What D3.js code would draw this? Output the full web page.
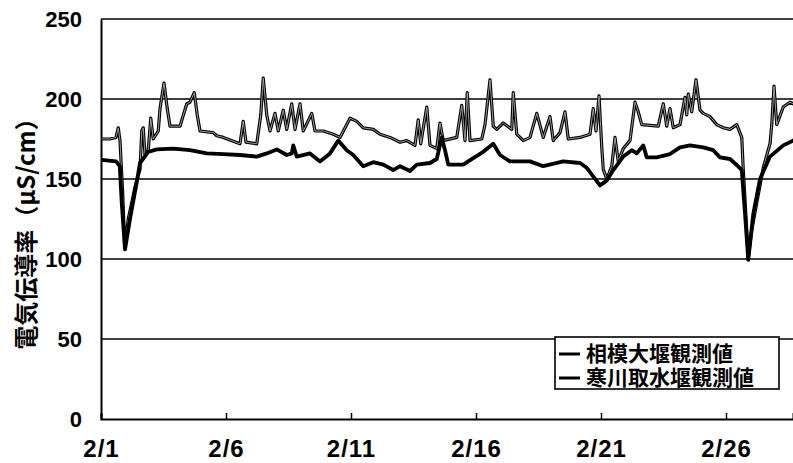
<!DOCTYPE html>
<html>
<head>
<meta charset="utf-8">
<script src="https://cdn.jsdelivr.net/npm/d3@7/dist/d3.min.js"></script>
<style>
  html, body { margin: 0; padding: 0; background: #fff; }
  svg { display: block; }
</style>
</head>
<body>
<svg id="chart" width="793" height="463"></svg>
<script>
// Conductivity records for February; time is in days elapsed since 2/1 00:00.
const sagamiDay = [0.03, 0.36, 0.6, 0.69, 0.76, 0.87, 0.95, 1.09, 1.36, 1.56, 1.63, 1.69, 1.76, 1.89, 1.99, 2.09,
  2.29, 2.36, 2.52, 2.65, 2.76, 3.16, 3.43, 3.56, 3.73, 3.85, 3.96, 4.49, 4.63, 4.89, 5.56, 5.69, 5.8, 6.23,
  6.39, 6.49, 6.63, 6.76, 6.96, 7.09, 7.29, 7.43, 7.63, 7.76, 7.96, 8.09, 8.43, 8.56, 8.89, 9.29,
  9.56, 9.96, 10.23, 10.49, 10.89, 11.16, 11.56, 11.96, 12.23, 12.56, 12.69, 12.79, 13.03, 13.16, 13.43,
  13.56, 13.69, 14.23, 14.43, 14.56, 14.65, 14.76, 15.23, 15.36, 15.56, 15.69, 15.83, 16.09, 16.43, 16.49,
  16.63, 16.89, 17.16, 17.43, 17.69, 17.96, 18.09, 18.36, 18.56, 18.69,
  19.16, 19.56, 19.69, 19.8, 19.92, 20.03, 20.09, 20.23, 20.43, 20.56, 20.69, 20.89, 21.16, 21.36, 21.49,
  21.63, 22.29, 22.49, 22.63, 22.76, 22.89, 23.16, 23.36, 23.43, 23.49, 23.63, 23.8, 23.96, 24.09, 24.36,
  24.63, 24.89, 25.16, 25.43, 25.63, 25.69, 25.83, 25.89, 26.03, 26.23, 26.49, 26.76, 26.83, 26.92, 27.03,
  27.29, 27.56, 27.83];
const sagamiVal = [175, 175, 176, 182, 174, 140, 107, 125, 145, 156, 180, 182, 165, 168, 188, 175,
  180, 194, 210, 194, 183, 183, 197, 198, 204, 190, 180, 179, 177, 176, 172, 186, 173, 172,
  190, 213, 190, 180, 191, 180, 193, 181, 197, 181, 197, 180, 191, 180, 180, 178,
  176, 188, 186, 182, 181, 178, 176, 173, 174, 171, 187, 172, 195, 171, 169,
  185, 174, 176, 196, 174, 204, 174, 175, 184, 212, 183, 181, 185, 181, 204,
  178, 174, 176, 191, 176, 189, 174, 179, 192, 175,
  176, 178, 194, 180, 202, 170, 156, 150, 158, 176, 161, 169, 174, 198, 192,
  184, 183, 197, 183, 194, 182, 184, 201, 190, 203, 192, 212, 193, 191, 189,
  184, 182, 181, 184, 176, 156, 118, 101, 118, 135, 157, 172, 184, 208, 184,
  195, 198, 196];

const samukawaDay = [0.03, 0.6, 0.75, 0.83, 0.96, 1.16, 1.43, 1.56, 1.89, 2.23, 2.89, 3.56, 4.23, 4.89, 5.56,
  6.23, 6.63, 7.03, 7.43, 7.63, 7.69, 7.83, 8.36, 8.76, 9.16, 9.49, 9.83, 10.09, 10.49, 10.89, 11.29,
  11.69, 11.96, 12.36, 12.63, 13.16, 13.43, 13.63, 13.76, 13.89, 14.49, 14.89, 15.29, 15.69, 15.96,
  16.36, 17.16, 17.69, 18.49, 19.16, 19.43, 19.96, 20.23, 20.49, 20.89, 21.23, 21.43, 21.69, 21.83,
  22.23, 22.76, 23.16, 23.56, 24.09, 24.49, 24.76, 25.16, 25.43, 25.63, 25.76, 25.89, 26.09, 26.36,
  26.76, 27.29, 27.68, 27.83];
const samukawaVal = [162, 161, 158, 135, 106, 125, 148, 160, 167, 168.5, 169, 168, 166, 165.5, 165,
  164, 166, 168.5, 165, 166, 171, 164, 166, 161, 166, 174, 168, 165, 158, 160.5, 159,
  155.6, 158, 155, 159, 160, 162.5, 176, 168, 159, 159, 163, 167, 172, 165,
  161, 161, 158, 161, 160, 157, 146, 149, 155.6, 164, 168, 166, 171, 163.5,
  163.5, 165.6, 169.8, 171, 169.8, 168, 163.5, 162.5, 158.75, 155.6, 128.5, 99.4, 128, 150,
  164, 171, 174, 175];

const yTicks = [0, 50, 100, 150, 200, 250];
const xTickDays = [0, 5, 10, 15, 20, 25];
const xTickLabels = ["2/1", "2/6", "2/11", "2/16", "2/21", "2/26"];
const seriesNames = ["相模大堰観測値", "寒川取水堰観測値"];
const yTitle = "電気伝導率（μS/cm）";

const svg = d3.select("#chart");
const plot = { left: 101, right: 793, top: 19, bottom: 419 };

const x = d3.scaleLinear().domain([0, 27.68]).range([plot.left, plot.right]);
const y = d3.scaleLinear().domain([0, 250]).range([plot.bottom, plot.top]);

svg.append("defs").append("clipPath").attr("id", "plotClip")
  .append("rect")
  .attr("x", plot.left).attr("y", plot.top - 10)
  .attr("width", plot.right - plot.left).attr("height", plot.bottom - plot.top + 10);

// horizontal gridlines
svg.append("g")
  .selectAll("line")
  .data(yTicks.filter(d => d > 0))
  .join("line")
  .attr("x1", plot.left).attr("x2", plot.right)
  .attr("y1", d => y(d)).attr("y2", d => y(d))
  .attr("stroke", "#000").attr("stroke-width", 1.6);

// y axis labels
const yAxis = d3.axisLeft(y).tickValues(yTicks).tickSize(0).tickPadding(19).tickFormat(d3.format("d"));
const gy = svg.append("g").attr("transform", `translate(${plot.left},0)`).call(yAxis);
gy.select(".domain").attr("stroke", "#000").attr("stroke-width", 2);
gy.selectAll("text")
  .attr("font-family", "'Liberation Sans', Arial, sans-serif")
  .attr("font-weight", "bold").attr("font-size", 22).attr("fill", "#000")
  .attr("dy", "0.36em");

// x axis with inward ticks
const xAxis = d3.axisBottom(x).tickValues(xTickDays).tickSize(-6).tickPadding(0)
  .tickFormat((d, i) => xTickLabels[i]);
const gx = svg.append("g").attr("transform", `translate(0,${plot.bottom})`).call(xAxis);
gx.select(".domain").attr("stroke", "#000").attr("stroke-width", 2);
gx.selectAll(".tick line").attr("stroke", "#000").attr("stroke-width", 1.5);
gx.selectAll("text")
  .attr("y", 38).attr("dy", null)
  .attr("font-family", "'Liberation Sans', Arial, sans-serif")
  .attr("font-weight", "bold").attr("font-size", 24).attr("letter-spacing", 1)
  .attr("fill", "#000");

// y axis title
svg.append("text")
  .attr("transform", `translate(35,228) rotate(-90)`)
  .attr("text-anchor", "middle")
  .attr("font-family", "'Noto Sans CJK JP', sans-serif")
  .attr("font-weight", "bold").attr("font-size", 24).attr("fill", "#000")
  .text(yTitle);

const line = d3.line().x(d => x(d[0])).y(d => y(d[1]));
const sagami = d3.zip(sagamiDay, sagamiVal);
const samukawa = d3.zip(samukawaDay, samukawaVal);

const lines = svg.append("g").attr("clip-path", "url(#plotClip)");
// Sagami weir: dark outline with a pale core
lines.append("path").datum(sagami).attr("d", line)
  .attr("fill", "none").attr("stroke", "#000").attr("stroke-width", 3.2)
  .attr("stroke-linejoin", "round");
lines.append("path").datum(sagami).attr("d", line)
  .attr("fill", "none").attr("stroke", "#aaa").attr("stroke-width", 0.9)
  .attr("stroke-linejoin", "round");
// Samukawa intake weir: heavy black
lines.append("path").datum(samukawa).attr("d", line)
  .attr("fill", "none").attr("stroke", "#000").attr("stroke-width", 3.8)
  .attr("stroke-linejoin", "round");

// legend
const lg = svg.append("g");
lg.append("rect").attr("x", 555).attr("y", 337).attr("width", 224).attr("height", 52)
  .attr("fill", "#fff").attr("stroke", "#000").attr("stroke-width", 1.6);
seriesNames.forEach((name, i) => {
  const cy = 354 + i * 24;
  lg.append("line").attr("x1", 559).attr("x2", 580).attr("y1", cy).attr("y2", cy)
    .attr("stroke", "#000").attr("stroke-width", 3);
  lg.append("text").attr("x", 586).attr("y", cy + 7)
    .attr("font-family", "'Noto Sans CJK JP', sans-serif")
    .attr("font-weight", "bold").attr("font-size", 21).attr("fill", "#000")
    .text(name);
});
</script>
</body>
</html>
